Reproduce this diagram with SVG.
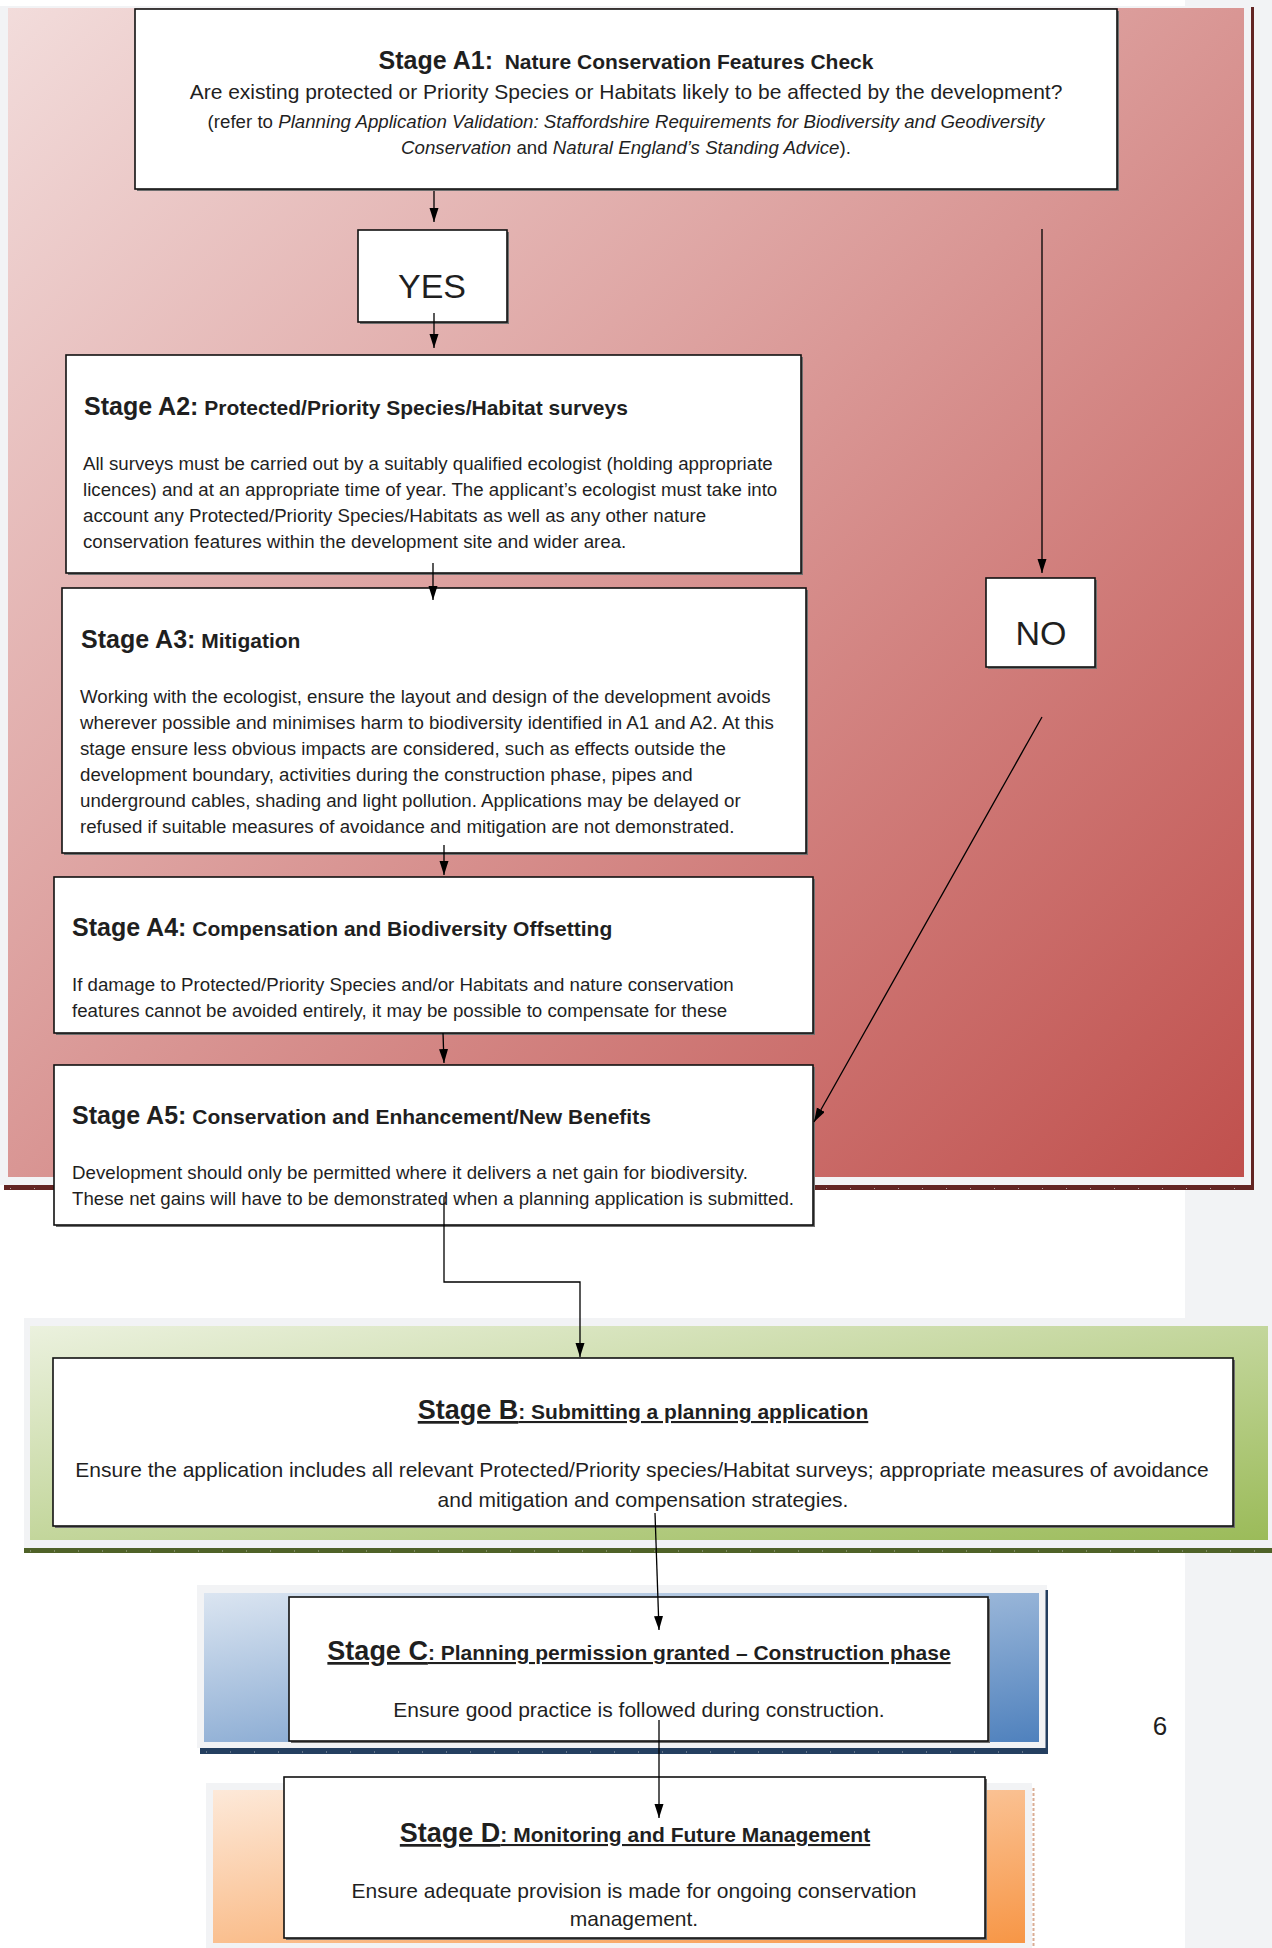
<svg xmlns="http://www.w3.org/2000/svg" width="1272" height="1948" viewBox="0 0 1272 1948">
  <defs>
    <linearGradient id="gRed" x1="0" y1="0" x2="1" y2="1">
      <stop offset="0" stop-color="#f2dcdb"/>
      <stop offset="1" stop-color="#c0504d"/>
    </linearGradient>
    <linearGradient id="gGreen" x1="0" y1="0" x2="1" y2="1">
      <stop offset="0" stop-color="#ebf1de"/>
      <stop offset="1" stop-color="#9bbb59"/>
    </linearGradient>
    <linearGradient id="gBlue" x1="0" y1="0" x2="1" y2="1">
      <stop offset="0" stop-color="#dbe5f1"/>
      <stop offset="1" stop-color="#4f81bd"/>
    </linearGradient>
    <linearGradient id="gOrange" x1="0" y1="0" x2="1" y2="1">
      <stop offset="0" stop-color="#fde9d9"/>
      <stop offset="1" stop-color="#f79646"/>
    </linearGradient>
    <marker id="arrow" markerUnits="userSpaceOnUse" markerWidth="15" markerHeight="10" refX="14" refY="4.5" orient="auto">
      <path d="M0,0 L14,4.5 L0,9 z" fill="#000"/>
    </marker>
    <style>
      text { font-family: "Liberation Sans", Arial, sans-serif; fill: #1f1f1f; }
      .box { fill: #fff; stroke: #111; stroke-width: 1.6; }
      .shadow { fill: #6f6f6f; }
      .frame { fill: #f2f3f5; }
      .stage { font-weight: bold; font-size: 25px; }
      .sub { font-weight: bold; font-size: 21px; }
      .stageL { font-weight: bold; font-size: 27px; }
      .body { font-size: 18.7px; }
      .bodyL { font-size: 21px; }
      .yn { font-size: 34px; }
      .u { text-decoration: underline; }
      .conn { fill: none; stroke: #000; stroke-width: 1.3; }
      .ticks { fill: none; stroke: #d8d8d8; stroke-width: 1; stroke-dasharray: 1 23; opacity: 0.7; }
    </style>
  </defs>

  <!-- page -->
  <rect x="0" y="0" width="1272" height="1948" fill="#ffffff"/>
  <rect x="1185" y="0" width="87" height="1948" fill="#f2f3f5"/>

  <!-- panel backgrounds -->
  <g id="panel-red">
    <rect class="frame" x="0" y="6" width="1252" height="1179"/>
    <rect x="8" y="8" width="1236" height="1169" fill="url(#gRed)"/>
    <rect x="1251" y="7" width="3" height="1183" fill="#632523"/>
    <rect x="4" y="1185" width="1250" height="5" fill="#632523"/>
    <line class="ticks" x1="10" y1="1188.5" x2="1250" y2="1188.5"/>
  </g>
  <g id="panel-green">
    <rect class="frame" x="24" y="1318" width="1248" height="230"/>
    <rect x="30" y="1326" width="1238" height="214" fill="url(#gGreen)"/>
    <rect x="24" y="1548" width="1248" height="5" fill="#4f6228"/>
    <line class="ticks" x1="30" y1="1551" x2="1272" y2="1551"/>
  </g>
  <g id="panel-blue">
    <rect class="frame" x="197" y="1585" width="850" height="163"/>
    <rect x="204" y="1593" width="835" height="149" fill="url(#gBlue)"/>
    <rect x="1045.5" y="1590" width="2.5" height="164" fill="#243f60"/>
    <rect x="200" y="1748" width="848" height="6" fill="#243f60"/>
    <line class="ticks" x1="206" y1="1752" x2="1046" y2="1752"/>
  </g>
  <g id="panel-orange">
    <rect class="frame" x="206" y="1783" width="826" height="165"/>
    <rect x="213" y="1790" width="812" height="153" fill="url(#gOrange)"/>
    <line x1="1033.5" y1="1788" x2="1033.5" y2="1948" stroke="#d9ad95" stroke-width="2" stroke-dasharray="3 2"/>
  </g>

  <!-- Stage A1 -->
  <g id="stage-a1">
    <rect class="shadow" x="137" y="11" width="982" height="180"/>
    <rect class="box" x="135" y="9" width="982" height="180"/>
    <text x="626" y="69" text-anchor="middle"><tspan class="stage">Stage A1:</tspan><tspan class="sub" xml:space="preserve">  Nature Conservation Features Check</tspan></text>
    <text x="626" y="99" text-anchor="middle" font-size="21">Are existing protected or Priority Species or Habitats likely to be affected by the development?</text>
    <text x="626" y="128" text-anchor="middle" class="body">(refer to <tspan font-style="italic">Planning Application Validation: Staffordshire Requirements for Biodiversity and Geodiversity</tspan></text>
    <text x="626" y="154" text-anchor="middle" class="body"><tspan font-style="italic">Conservation</tspan> and <tspan font-style="italic">Natural England’s Standing Advice</tspan>).</text>
  </g>

  <!-- YES -->
  <g id="yes">
    <rect class="shadow" x="360" y="232" width="149" height="92"/>
    <rect class="box" x="358" y="230" width="149" height="92"/>
    <text x="432" y="298" text-anchor="middle" class="yn">YES</text>
  </g>

  <!-- NO -->
  <g id="no">
    <rect class="shadow" x="988" y="580" width="109" height="89"/>
    <rect class="box" x="986" y="578" width="109" height="89"/>
    <text x="1041" y="645" text-anchor="middle" class="yn">NO</text>
  </g>

  <!-- Stage A2 -->
  <g id="stage-a2">
    <rect class="shadow" x="68" y="357" width="735" height="218"/>
    <rect class="box" x="66" y="355" width="735" height="218"/>
    <text x="84" y="415"><tspan class="stage">Stage A2:</tspan><tspan class="sub"> Protected/Priority Species/Habitat surveys</tspan></text>
    <text class="body" x="83" y="470">All surveys must be carried out by a suitably qualified ecologist (holding appropriate</text>
    <text class="body" x="83" y="496">licences) and at an appropriate time of year. The applicant’s ecologist must take into</text>
    <text class="body" x="83" y="522">account any Protected/Priority Species/Habitats as well as any other nature</text>
    <text class="body" x="83" y="548">conservation features within the development site and wider area.</text>
  </g>

  <!-- Stage A3 -->
  <g id="stage-a3">
    <rect class="shadow" x="64" y="590" width="744" height="265"/>
    <rect class="box" x="62" y="588" width="744" height="265"/>
    <text x="81" y="648"><tspan class="stage">Stage A3:</tspan><tspan class="sub"> Mitigation</tspan></text>
    <text class="body" x="80" y="703">Working with the ecologist, ensure the layout and design of the development avoids</text>
    <text class="body" x="80" y="729">wherever possible and minimises harm to biodiversity identified in A1 and A2. At this</text>
    <text class="body" x="80" y="755">stage ensure less obvious impacts are considered, such as effects outside the</text>
    <text class="body" x="80" y="781">development boundary, activities during the construction phase, pipes and</text>
    <text class="body" x="80" y="807">underground cables, shading and light pollution. Applications may be delayed or</text>
    <text class="body" x="80" y="833">refused if suitable measures of avoidance and mitigation are not demonstrated.</text>
  </g>

  <!-- Stage A4 -->
  <g id="stage-a4">
    <rect class="shadow" x="56" y="879" width="759" height="156"/>
    <rect class="box" x="54" y="877" width="759" height="156"/>
    <text x="72" y="936"><tspan class="stage">Stage A4:</tspan><tspan class="sub"> Compensation and Biodiversity Offsetting</tspan></text>
    <text class="body" x="72" y="991">If damage to Protected/Priority Species and/or Habitats and nature conservation</text>
    <text class="body" x="72" y="1017">features cannot be avoided entirely, it may be possible to compensate for these</text>
  </g>

  <!-- Stage A5 -->
  <g id="stage-a5">
    <rect class="shadow" x="56" y="1067" width="759" height="160"/>
    <rect class="box" x="54" y="1065" width="759" height="160"/>
    <text x="72" y="1124"><tspan class="stage">Stage A5:</tspan><tspan class="sub"> Conservation and Enhancement/New Benefits</tspan></text>
    <text class="body" x="72" y="1179">Development should only be permitted where it delivers a net gain for biodiversity.</text>
    <text class="body" x="72" y="1205">These net gains will have to be demonstrated when a planning application is submitted.</text>
  </g>

  <!-- Stage B -->
  <g id="stage-b">
    <rect class="shadow" x="55" y="1360" width="1180" height="168"/>
    <rect class="box" x="53" y="1358" width="1180" height="168"/>
    <text x="643" y="1419" text-anchor="middle" class="u"><tspan class="stageL">Stage B</tspan><tspan class="sub">: Submitting a planning application</tspan></text>
    <text class="bodyL" x="642" y="1477" text-anchor="middle">Ensure the application includes all relevant Protected/Priority species/Habitat surveys; appropriate measures of avoidance</text>
    <text class="bodyL" x="643" y="1507" text-anchor="middle">and mitigation and compensation strategies.</text>
  </g>

  <!-- Stage C -->
  <g id="stage-c">
    <rect class="shadow" x="291" y="1599" width="699" height="144"/>
    <rect class="box" x="289" y="1597" width="699" height="144"/>
    <text x="639" y="1660" text-anchor="middle" class="u"><tspan class="stageL">Stage C</tspan><tspan class="sub">: Planning permission granted – Construction phase</tspan></text>
    <text class="bodyL" x="639" y="1717" text-anchor="middle">Ensure good practice is followed during construction.</text>
  </g>

  <!-- Stage D -->
  <g id="stage-d">
    <rect class="shadow" x="286" y="1779" width="701" height="161"/>
    <rect class="box" x="284" y="1777" width="701" height="161"/>
    <text x="635" y="1842" text-anchor="middle" class="u"><tspan class="stageL">Stage D</tspan><tspan class="sub">: Monitoring and Future Management</tspan></text>
    <text class="bodyL" x="634" y="1898" text-anchor="middle">Ensure adequate provision is made for ongoing conservation</text>
    <text class="bodyL" x="634" y="1926" text-anchor="middle">management.</text>
  </g>

  <!-- page number -->
  <text x="1160" y="1735" text-anchor="middle" font-size="26" fill="#333">6</text>

  <!-- connectors -->
  <g id="connectors">
    <line class="conn" x1="434" y1="191" x2="434" y2="222" marker-end="url(#arrow)"/>
    <line class="conn" x1="434" y1="313" x2="434" y2="348" marker-end="url(#arrow)"/>
    <line class="conn" x1="1042" y1="229" x2="1042" y2="573" marker-end="url(#arrow)"/>
    <line class="conn" x1="433" y1="563" x2="433" y2="600" marker-end="url(#arrow)"/>
    <line class="conn" x1="444" y1="845" x2="444" y2="875" marker-end="url(#arrow)"/>
    <line class="conn" x1="443" y1="1033" x2="444" y2="1063" marker-end="url(#arrow)"/>
    <line class="conn" x1="1042" y1="717" x2="814" y2="1122" marker-end="url(#arrow)"/>
    <polyline class="conn" points="444,1197 444,1282 580,1282 580,1357" marker-end="url(#arrow)"/>
    <line class="conn" x1="655" y1="1513" x2="659" y2="1630" marker-end="url(#arrow)"/>
    <line class="conn" x1="659" y1="1720" x2="659" y2="1818" marker-end="url(#arrow)"/>
  </g>
</svg>
